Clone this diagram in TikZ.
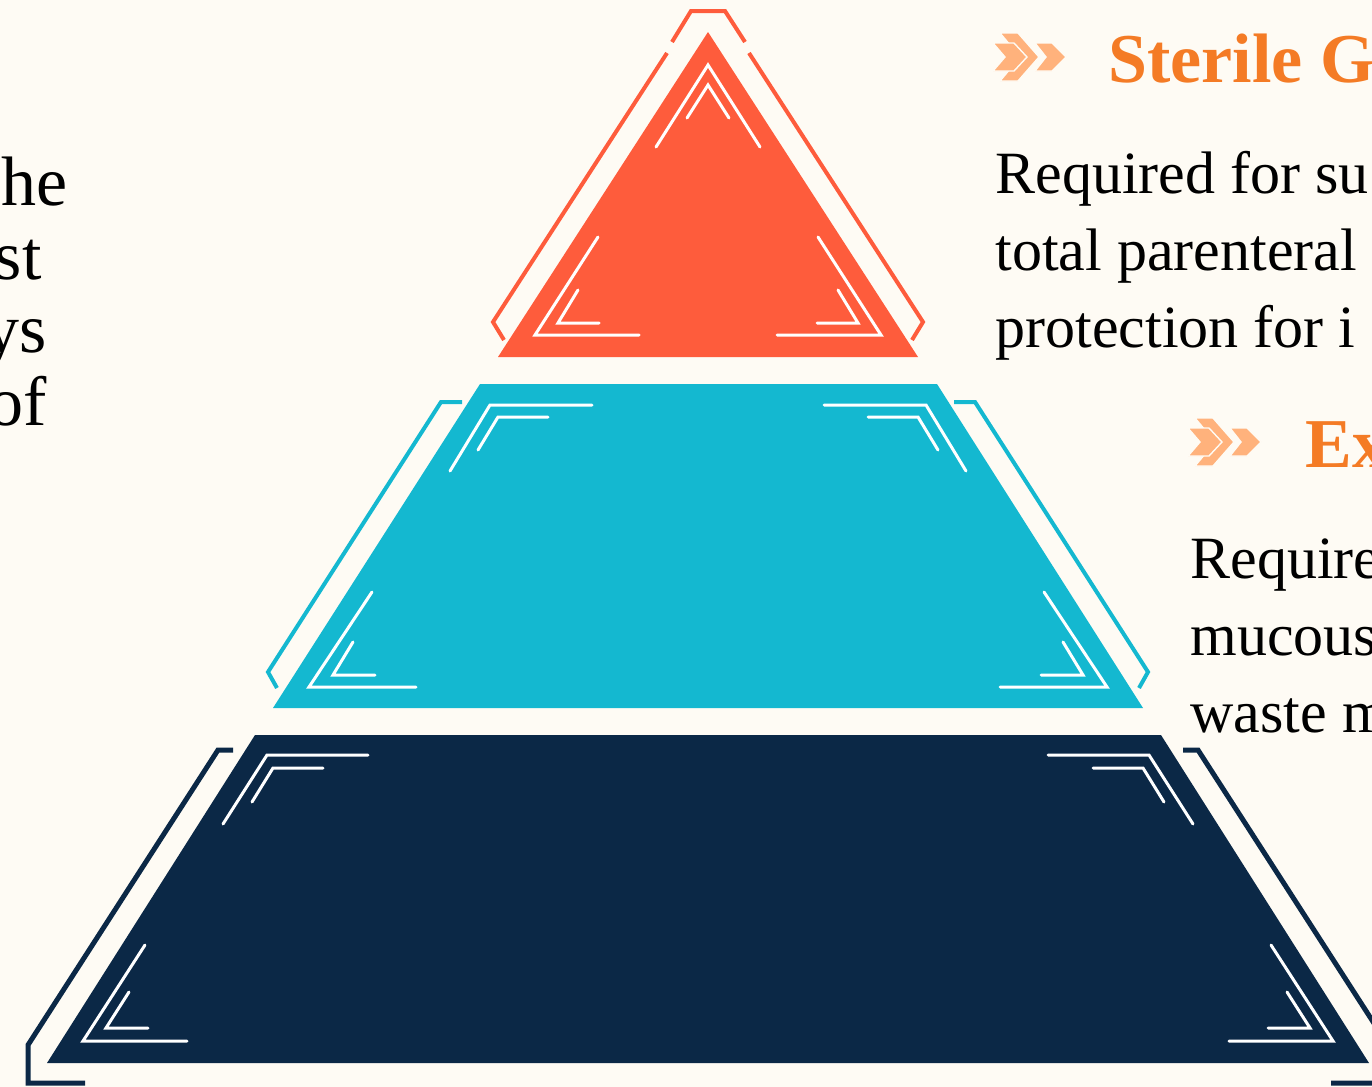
\documentclass[tikz,border=0pt]{standalone}
\usepackage{fontspec}
\setmainfont{Liberation Serif}
\usepackage{xcolor}
\usepackage{tikz}
\usetikzlibrary{positioning}
\definecolor{cream}{HTML}{FEFBF4}
\definecolor{tipred}{HTML}{FE5C3C}
\definecolor{midcyan}{HTML}{14B8D0}
\definecolor{basenavy}{HTML}{0B2846}
\definecolor{headorange}{HTML}{F47B25}
\definecolor{chevpeach}{HTML}{FFB27C}

\begin{document}
\begin{tikzpicture}[x=0.5pt,y=-0.5pt,
wline/.style={draw=white,line width=1.5pt,line cap=round},
frame/.style={line width=2pt},
body/.style={font=\fontsize{30}{36}\selectfont,anchor=base west,inner sep=0pt},
side/.style={font=\fontsize{35}{42}\selectfont,anchor=base east,inner sep=0pt},
head/.style={font=\fontsize{35}{42}\selectfont\bfseries,text=headorange,anchor=base west,inner sep=0pt},
chev/.style={fill=chevpeach,draw=cream,line width=0.7pt}]

\fill[cream] (0,0) rectangle (1372,1087);
\useasboundingbox (0,0) rectangle (1372,1087);

\fill[tipred] (708,32) -- (918,357) -- (498,357) -- cycle;
\fill[midcyan] (480,384) -- (937,384) -- (1143,708) -- (273,708) -- cycle;
\fill[basenavy] (255,735) -- (1161,735) -- (1369,1063) -- (47,1063) -- cycle;

\draw[tipred,frame] (672,42) -- (691,11) -- (725,11) -- (745,42);
\draw[wline] (656,147) -- (708,65) -- (760,147);
\draw[wline] (687,118) -- (708,85) -- (729,118);

\foreach \s in {1,-1}{
\draw[tipred,frame] ({708-\s*41},53) -- ({708-\s*215},322) -- ({708-\s*204},340);
\draw[wline] ({708-\s*110},237) -- ({708-\s*173},335) -- ({708-\s*69},335);
\draw[wline] ({708-\s*130},290) -- ({708-\s*150},323) -- ({708-\s*109},323);
\draw[midcyan,frame] ({708-\s*246},402) -- ({708-\s*267},402) -- ({708-\s*440},672) -- ({708-\s*431},688);
\draw[wline] ({708-\s*116},405) -- ({708-\s*218},405) -- ({708-\s*258},471);
\draw[wline] ({708-\s*160},417) -- ({708-\s*210},417) -- ({708-\s*230},450);
\draw[wline] ({708-\s*336},592) -- ({708-\s*399},687) -- ({708-\s*292},687);
\draw[wline] ({708-\s*355},642) -- ({708-\s*375},675) -- ({708-\s*333},675);
\draw[basenavy,line width=2.5pt] ({708-\s*475},750) -- ({708-\s*490},750) -- ({708-\s*680},1045) -- ({708-\s*680},1083) -- ({708-\s*623},1083);
\draw[wline] ({708-\s*340},755) -- ({708-\s*441},755) -- ({708-\s*485},824);
\draw[wline] ({708-\s*385},768) -- ({708-\s*435},768) -- ({708-\s*456},802);
\draw[wline] ({708-\s*563},945) -- ({708-\s*625},1041) -- ({708-\s*521},1041);
\draw[wline] ({708-\s*579},992) -- ({708-\s*602},1028) -- ({708-\s*560},1028);
}

\foreach \ox/\oy in {0/0,195/385}{
\begin{scope}[shift={(\ox,\oy)}]
\filldraw[chev] (1035,43) -- (1052,43) -- (1066,57) -- (1052,71) -- (1035,71) -- (1046,57) -- cycle;
\filldraw[chev] (1000,33) -- (1018,33) -- (1039,57) -- (1018,81) -- (1000,81) -- (1020,57) -- cycle;
\filldraw[chev] (993,43) -- (1014,43) -- (1027,57) -- (1014,71) -- (993,71) -- (1005,57) -- cycle;
\end{scope}
}

\node[head] (glovehead) at (1108,82) {Sterile Gl};
\node[body] (glove1) at (995,193) {Required for su};
\node[body] (glove2) at (995,270) {total parenteral};
\node[body] (glove3) at (995,347) {protection for i};

\node[head] (exhead) at (1305,467) {Ex};
\node[body] (ex1) at (1190,578) {Require};
\node[body] (ex2) at (1190,655) {mucous};
\node[body] (ex3) at (1190,732) {waste m};

\node[side] (left1) at (68,205) {he};
\node[side] (left2) at (42,279) {st};
\node[side] (left3) at (47,352) {ys};
\node[side] (left4) at (47,425) {of};
\end{tikzpicture}
\end{document}
